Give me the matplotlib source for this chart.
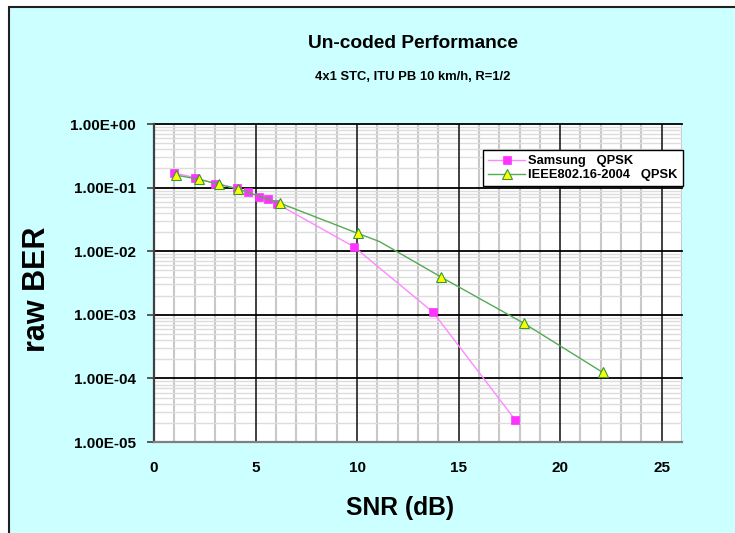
import matplotlib
matplotlib.use("Agg")
import matplotlib.pyplot as plt
from matplotlib import font_manager
from matplotlib.ticker import LogLocator, MultipleLocator, FuncFormatter, NullFormatter
from matplotlib.patches import Rectangle

# values
samsung_snr = [1.0, 2.0, 3.0, 4.1, 4.65, 5.15, 5.6, 6.05, 9.85, 13.75, 17.8]
samsung_ber = [0.17, 0.144, 0.116, 0.097, 0.084, 0.072, 0.065, 0.056, 0.0117, 0.00109, 2.2e-5]

ieee_snr = [1.1, 2.2, 3.2, 4.15, 6.2, 10.05, 11.1, 14.15, 18.2, 22.1]
ieee_ber = [0.157, 0.135, 0.113, 0.095, 0.057, 0.019, 0.0142, 0.0039, 0.00074, 0.000124]
ieee_marked = [0, 1, 2, 3, 4, 5, 7, 8, 9]  # one point on the line has no marker

series_labels = ["Samsung   QPSK", "IEEE802.16-2004   QPSK"]
title = "Un-coded Performance"
subtitle = "4x1 STC, ITU PB 10 km/h, R=1/2"

# narrow face for the squeezed horizontal text, if there is one
names = {f.name for f in font_manager.fontManager.ttflist}
if "Liberation Sans Narrow" in names:
    narrow_fam, k = "Liberation Sans Narrow", 1 / 0.82
else:
    narrow_fam, k = "Liberation Sans", 1.0
plt.rcParams["font.family"] = ["Liberation Sans", "DejaVu Sans"]

W, H = 735, 533
fig = plt.figure(figsize=(W / 100, H / 100), dpi=100, facecolor="white")

# cyan chart area with a dark frame (right and bottom edges off the canvas)
fig.patches.append(Rectangle((9 / W, -0.05), 1.2, 1 - 7 / H + 0.05,
                             transform=fig.transFigure, facecolor="#CCFFFF",
                             edgecolor="#202020", linewidth=1.5, zorder=-1))

ax = fig.add_axes([154 / W, 1 - 442 / H, (682 - 154) / W, (442 - 124) / H])
ax.set_zorder(1)
ax.set_facecolor("white")

ax.plot(samsung_snr, samsung_ber, color="#FF88FF", linewidth=1.0,
        marker="s", markersize=6, markerfacecolor="#FF33FF",
        markeredgecolor="#FF33FF", markeredgewidth=0.5, label=series_labels[0], zorder=3)
ax.plot(ieee_snr, ieee_ber, color="#55AA55", linewidth=1.0,
        marker="^", markersize=6.5, markevery=ieee_marked, markerfacecolor="#FFFF00",
        markeredgecolor="#339933", markeredgewidth=0.8, label=series_labels[1], zorder=4)

ax.set_yscale("log")
ax.set_ylim(1e-5, 1)
ax.set_xlim(0, 26)

ax.xaxis.set_major_locator(MultipleLocator(5))
ax.xaxis.set_minor_locator(MultipleLocator(1))
ax.yaxis.set_major_locator(LogLocator(base=10))
ax.yaxis.set_minor_locator(LogLocator(base=10, subs=range(2, 10)))
ax.yaxis.set_minor_formatter(NullFormatter())
ax.yaxis.set_major_formatter(FuncFormatter(lambda v, p: f"{v:.2E}"))
ax.set_xticks([0, 5, 10, 15, 20, 25])

# light minor grid underneath, major grid lines on top of it
ax.grid(which="minor", axis="x", color="#C8C8C8", linewidth=1.5)
ax.grid(which="minor", axis="y", color="#DDDDDD", linewidth=1.0)
ax.set_axisbelow(True)
x0, x1 = ax.get_xlim()
y0, y1 = ax.get_ylim()
for xt in ax.get_xticks():
    if x0 < xt <= x1:
        ax.axvline(xt, color="#303030", linewidth=1.3, zorder=1)
for yt in ax.get_yticks():
    if y0 < yt <= y1:
        ax.axhline(yt, color="black", linewidth=1.3, zorder=1, clip_on=False)

for s in ["top", "right"]:
    ax.spines[s].set_visible(False)
ax.spines["left"].set_color("#404040")
ax.spines["left"].set_linewidth(1.6)
ax.spines["bottom"].set_color("#808080")
ax.spines["bottom"].set_linewidth(1.6)

ax.tick_params(axis="y", which="major", length=5, width=1.2, color="#404040",
               pad=8, labelsize=11)
ax.tick_params(axis="x", which="major", length=0, pad=14, labelsize=11)
ax.tick_params(which="minor", length=0)
for lab in ax.get_xticklabels() + ax.get_yticklabels():
    lab.set_fontweight("bold")

ax.set_xlabel("SNR (dB)", fontsize=17.7 * k, fontweight="bold", family=narrow_fam)
ax.xaxis.set_label_coords(400 / W, 1 - 508 / H, transform=fig.transFigure)
ax.xaxis.label.set_va("center")
ax.set_ylabel("raw BER", fontsize=22, fontweight="bold")
ax.yaxis.set_label_coords(37 / W, 1 - 289 / H, transform=fig.transFigure)
ax.yaxis.label.set_va("center")

fig.text(413 / W, 1 - 44 / H, title, ha="center", va="center",
         fontsize=13.8 * k, fontweight="bold", family=narrow_fam)
fig.text(413 / W, 1 - 77 / H, subtitle, ha="center", va="center",
         fontsize=9.4 * k, fontweight="bold", family=narrow_fam)

leg = ax.legend(loc="upper right", bbox_to_anchor=(683 / W, 1 - 150 / H),
                bbox_transform=fig.transFigure, fancybox=False, framealpha=1,
                edgecolor="black", prop={"weight": "bold", "size": 9.3},
                handlelength=2.8, handletextpad=0.3, borderpad=0.4,
                labelspacing=0.15, borderaxespad=0)
leg.get_frame().set_linewidth(1.0)
leg.set_zorder(6)

fig.savefig("out.png", dpi=100)
